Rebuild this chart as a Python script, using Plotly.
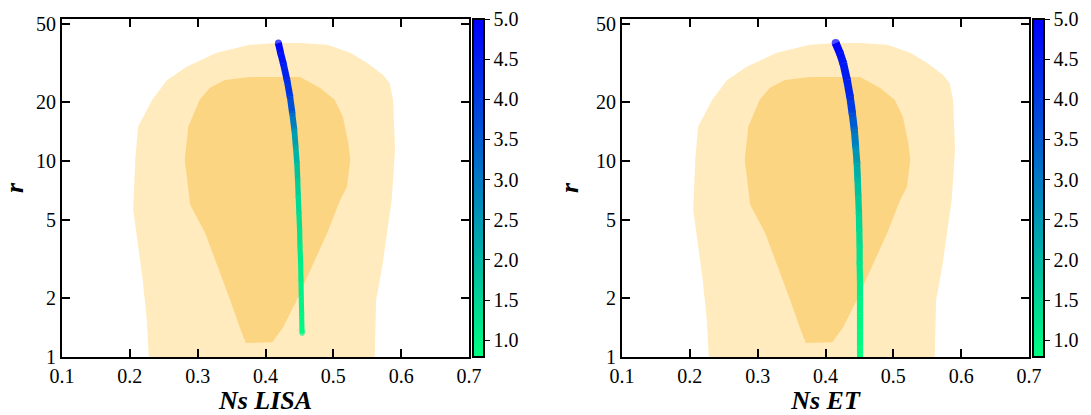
import plotly.graph_objects as go
from plotly.colors import sample_colorscale

# ---------------- data ----------------
# 95% (outer) and 68% (inner) confidence regions, shared by both panels
outer_ns = [0.228, 0.225, 0.219, 0.211, 0.205, 0.208, 0.212, 0.233, 0.255, 0.284, 0.328, 0.377, 0.417,
            0.451, 0.491, 0.525, 0.550, 0.573, 0.583, 0.588, 0.591, 0.586, 0.579, 0.572, 0.563, 0.561]
outer_r = [1.0, 1.54, 2.47, 3.95, 5.62, 10.1, 14.9, 20.5, 25.9, 30.2, 35.6, 39.1, 40.0,
           40.0, 39.1, 35.6, 31.6, 27.5, 25.0, 20.5, 11.4, 6.3, 4.29, 2.88, 1.95, 1.0]

inner_ns = [0.303, 0.286, 0.281, 0.289, 0.311, 0.330, 0.348, 0.362, 0.371, 0.410, 0.426, 0.446, 0.468,
            0.491, 0.510, 0.520, 0.525, 0.522, 0.514, 0.502, 0.480, 0.451, 0.377, 0.340, 0.318]
inner_r = [20.5, 14.9, 10.1, 5.97, 4.29, 2.88, 1.95, 1.42, 1.18, 1.19, 1.42, 1.95, 2.88,
           4.29, 6.3, 7.37, 10.1, 12.4, 16.8, 20.5, 23.6, 26.8, 26.8, 25.9, 23.6]

# model prediction curves (colour = model parameter)
lisa_ns = [0.419, 0.4224, 0.4262, 0.4317, 0.4361, 0.4395, 0.4425, 0.4445, 0.4464, 0.4474,
           0.4483, 0.4493, 0.4503, 0.4508, 0.4518, 0.4523, 0.4527, 0.4533, 0.4538, 0.454]
lisa_r = [39.9, 35.4, 31.5, 25.9, 21.3, 17.5, 14.4, 11.8, 9.73, 8.00,
          6.58, 5.41, 4.45, 3.66, 3.01, 2.47, 2.03, 1.67, 1.37, 1.32]
lisa_c = [5.0, 4.8, 4.6, 4.3, 4.0, 3.35, 2.55, 2.2, 1.9, 1.65,
          1.45, 1.35, 1.25, 1.15, 1.1, 1.05, 1.0, 0.95, 0.9, 0.88]

et_ns = [0.415, 0.4213, 0.4262, 0.4317, 0.4361, 0.4395, 0.4425, 0.4445, 0.4464, 0.4474,
         0.4483, 0.4493, 0.4498, 0.4503, 0.4503, 0.4508, 0.4508, 0.4508, 0.4508, 0.4508, 0.4508]
et_r = [39.9, 35.4, 31.5, 25.9, 21.3, 17.5, 14.4, 11.8, 9.73, 8.00,
        6.58, 5.41, 4.45, 3.66, 3.01, 2.47, 2.03, 1.67, 1.37, 1.13, 1.0]
et_c = [5.0, 4.8, 4.6, 4.5, 4.3, 3.8, 3.2, 2.7, 2.3, 1.95,
        1.7, 1.55, 1.4, 1.3, 1.2, 1.1, 1.0, 0.95, 0.9, 0.85, 0.8]

x_ticks = [0.1, 0.2, 0.3, 0.4, 0.5, 0.6, 0.7]
r_ticks = [1, 2, 5, 10, 20, 50]
c_ticks = [1.0, 1.5, 2.0, 2.5, 3.0, 3.5, 4.0, 4.5, 5.0]

# ---------------- style ----------------
W, H = 1091, 415
FONT = "Liberation Serif"
CSCALE = [[0.0, "rgb(0,255,128)"], [1.0, "rgb(0,0,255)"]]  # winter_r
CMIN, CMAX = 0.79, 5.0
LIGHT = "#FFEBBE"
DARK = "#FCD583"

panels = [
    dict(xa="x", ya="y", ns=lisa_ns, r=lisa_r, c=lisa_c, lw=5, cbx=473 / W, title="Ns LISA"),
    dict(xa="x2", ya="y2", ns=et_ns, r=et_r, c=et_c, lw=6, cbx=1033 / W, title="Ns ET"),
]

fig = go.Figure()
for p in panels:
    fig.add_trace(go.Scatter(x=outer_ns, y=outer_r, xaxis=p["xa"], yaxis=p["ya"], mode="lines",
                             fill="toself", fillcolor=LIGHT, line=dict(width=0), hoverinfo="skip",
                             showlegend=False))
    fig.add_trace(go.Scatter(x=inner_ns, y=inner_r, xaxis=p["xa"], yaxis=p["ya"], mode="lines",
                             fill="toself", fillcolor=DARK, line=dict(width=0), hoverinfo="skip",
                             showlegend=False))
    ns, r, c = p["ns"], p["r"], p["c"]
    for i in range(len(ns) - 1):
        cm = 0.5 * (c[i] + c[i + 1])
        col = sample_colorscale(CSCALE, [(cm - CMIN) / (CMAX - CMIN)])[0]
        w = p["lw"] + 2.0 * (cm - CMIN) / (CMAX - CMIN)
        fig.add_trace(go.Scatter(x=[ns[i], ns[i + 1]], y=[r[i], r[i + 1]], xaxis=p["xa"], yaxis=p["ya"],
                                 mode="lines", line=dict(color=col, width=w), hoverinfo="skip",
                                 showlegend=False))
    sizes = [p["lw"] + 2.0 * (v - CMIN) / (CMAX - CMIN) for v in c]
    fig.add_trace(go.Scatter(
        x=ns, y=r, xaxis=p["xa"], yaxis=p["ya"], mode="markers", showlegend=False,
        marker=dict(size=sizes, color=c, colorscale=CSCALE, cmin=CMIN, cmax=CMAX, line=dict(width=0),
                    colorbar=dict(x=p["cbx"], xanchor="left", xpad=0, ypad=0,
                                  y=(H - 357) / H, yanchor="bottom", len=338 / H, lenmode="fraction",
                                  thickness=11, outlinewidth=2, outlinecolor="black",
                                  tickvals=c_ticks, ticktext=[f"{v:.1f}" for v in c_ticks],
                                  ticks="outside", ticklen=5, tickwidth=1, tickcolor="black",
                                  tickfont=dict(family=FONT, size=20, color="black"))),
    ))

axis_common = dict(showline=True, linewidth=2, linecolor="black", mirror="ticks", ticks="inside",
                   ticklen=8, tickwidth=1.5, tickcolor="black", showgrid=False, zeroline=False,
                   automargin=False, tickfont=dict(family=FONT, size=20, color="black"))

ydom = [(H - 357) / H, (H - 19) / H]
for p, dom in zip(panels, [[62 / W, 469 / W], [622 / W, 1029 / W]]):
    xk = "xaxis" if p["xa"] == "x" else "xaxis2"
    yk = "yaxis" if p["ya"] == "y" else "yaxis2"
    fig.layout[xk] = dict(axis_common, domain=dom, range=[0.1, 0.7], tickvals=x_ticks,
                          ticktext=[f"{v:.1f}" for v in x_ticks], anchor=p["ya"],
                          title=dict(text=f"<b><i>{p['title']}</i></b>", standoff=4,
                                     font=dict(family=FONT, size=26, color="black")))
    fig.layout[yk] = dict(axis_common, domain=ydom, type="log", range=[0, 1.724], tickvals=r_ticks,
                          ticktext=[str(v) for v in r_ticks], anchor=p["xa"],
                          title=dict(text="<b><i>r</i></b>", standoff=10,
                                     font=dict(family=FONT, size=26, color="black")))

fig.update_layout(width=W, height=H, margin=dict(l=0, r=0, t=0, b=0, autoexpand=False),
                  plot_bgcolor="white", paper_bgcolor="white", showlegend=False)

fig.write_html("out.html")
